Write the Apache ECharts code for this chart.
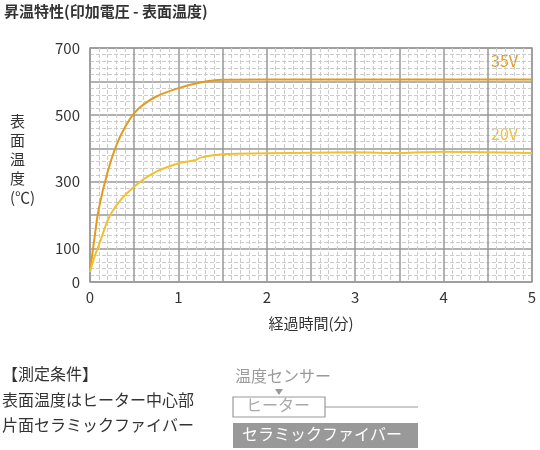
<!DOCTYPE html>
<html><head><meta charset="utf-8">
<script src="https://cdn.jsdelivr.net/npm/echarts@6/dist/echarts.min.js"></script>
<style>body{margin:0}#chart{width:540px;height:450px}</style>
</head><body><div id="chart"></div>
<script>
var times35 = [0, 0.05, 0.1, 0.2, 0.3, 0.4, 0.5, 0.6, 0.75, 1, 1.25, 1.5, 2, 3, 4, 5];
var temp35 = [30, 130, 220, 330, 410, 465, 505, 530, 555, 580, 597, 605, 606, 606, 606, 606];
var times20 = [0, 0.05, 0.1, 0.25, 0.5, 0.75, 1, 1.2, 1.25, 1.5, 2, 2.5, 3, 3.5, 4, 4.5, 5];
var temp20 = [30, 75, 110, 210, 285, 330, 355, 365, 372, 382, 385, 387, 388, 386, 390, 388, 386];
var yLabels = [0, 100, 300, 500, 700];

var font = '"Noto Sans CJK JP", "Noto Sans", sans-serif';
function pairs(t, v) { return t.map(function (x, i) { return [x, v[i]]; }); }

var option = {
    animation: false,
    textStyle: {fontFamily: font},
    grid: [
        {left: 90, right: 8, top: 48, bottom: 168, show: true, borderColor: '#999', borderWidth: 1.5}
    ],
    xAxis: [
        {type: 'value', min: 0, max: 5, interval: 0.5,
         axisLine: {show: false}, axisTick: {show: false},
         axisLabel: {color: '#333', fontSize: 15, fontFamily: font, margin: 8,
                     formatter: function (v) { return Number.isInteger(v) ? v : ''; }},
         splitLine: {show: true, lineStyle: {color: '#999', width: 1.5}},
         minorTick: {show: false, splitNumber: 5},
         minorSplitLine: {show: true, lineStyle: {color: '#ccc', type: 'dashed', width: 1}},
         name: '経過時間(分)', nameLocation: 'middle', nameGap: 34,
         nameTextStyle: {color: '#333', fontSize: 15, fontFamily: font}}
    ],
    yAxis: [
        {type: 'value', min: 0, max: 700, interval: 100,
         axisLine: {show: false}, axisTick: {show: false},
         axisLabel: {color: '#333', fontSize: 15, fontFamily: font, margin: 10,
                     formatter: function (v) { return yLabels.indexOf(v) >= 0 ? v : ''; }},
         splitLine: {show: true, lineStyle: {color: '#999', width: 1.5}},
         minorTick: {show: false, splitNumber: 5},
         minorSplitLine: {show: true, lineStyle: {color: '#ccc', type: 'dashed', width: 1}}}
    ],
    series: [
        {name: '35V', type: 'line', smooth: 0.4, showSymbol: false, data: pairs(times35, temp35),
         lineStyle: {color: '#e39b1f', width: 2}},
        {name: '20V', type: 'line', smooth: 0.4, showSymbol: false, data: pairs(times20, temp20),
         lineStyle: {color: '#f3c030', width: 2}}
    ],
    graphic: [
        {type: 'text', left: 4, top: 4, style: {text: '昇温特性(印加電圧 - 表面温度)', font: 'bold 15px ' + font, fill: '#333'}},
        {type: 'text', left: 491, top: 53, style: {text: '35V', font: '16px ' + font, fill: '#e39b1f'}},
        {type: 'text', left: 491, top: 126, style: {text: '20V', font: '16px ' + font, fill: '#f3c030'}},
        {type: 'text', left: 10, top: 112, style: {text: '表\n面\n温\n度\n(℃)', font: '15px ' + font, fill: '#333', lineHeight: 19}},
        {type: 'text', left: 2, top: 366, style: {text: '【測定条件】', font: '16px ' + font, fill: '#333'}},
        {type: 'text', left: 2, top: 392, style: {text: '表面温度はヒーター中心部', font: '16px ' + font, fill: '#333'}},
        {type: 'text', left: 2, top: 417, style: {text: '片面セラミックファイバー', font: '16px ' + font, fill: '#333'}},
        {type: 'text', left: 235, top: 368, style: {text: '温度センサー', font: '16px ' + font, fill: '#999'}},
        {type: 'polygon', shape: {points: [[275, 389], [283, 389], [279, 395]]}, style: {fill: '#999'}},
        {type: 'rect', shape: {x: 233, y: 397, width: 92, height: 20}, style: {fill: '#fff', stroke: '#999', lineWidth: 1.2}},
        {type: 'text', left: 246, top: 397, style: {text: 'ヒーター', font: '16px ' + font, fill: '#aaa'}},
        {type: 'line', shape: {x1: 325, y1: 407, x2: 418, y2: 407}, style: {stroke: '#999', lineWidth: 1.2}},
        {type: 'rect', shape: {x: 233, y: 423, width: 185, height: 25}, style: {fill: '#999'}},
        {type: 'text', left: 242, top: 426, style: {text: 'セラミックファイバー', font: '16px ' + font, fill: '#fff'}}
    ]
};
echarts.init(document.getElementById('chart')).setOption(option);
</script></body></html>
